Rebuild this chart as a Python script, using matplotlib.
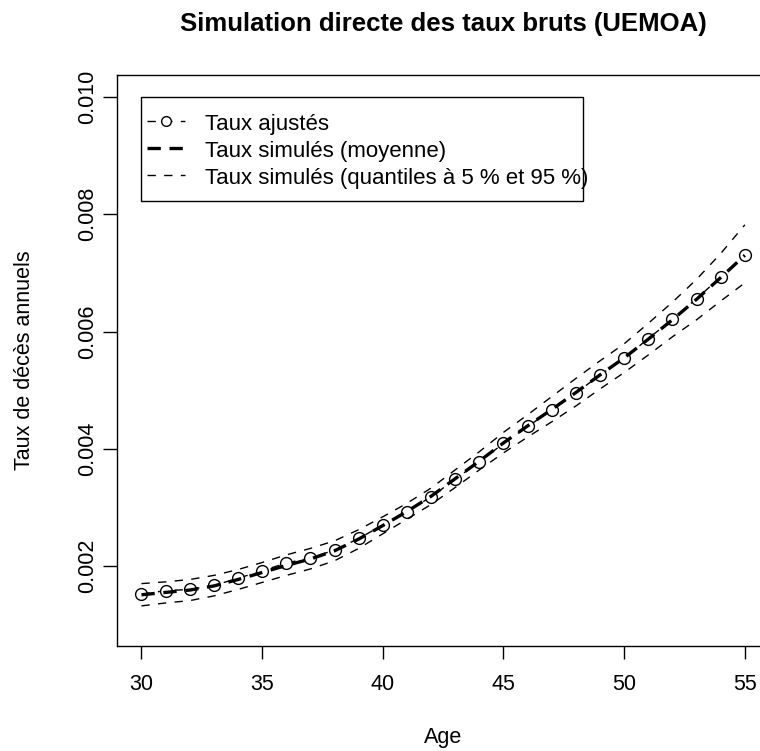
import numpy as np
import matplotlib
matplotlib.use('Agg')
import matplotlib.pyplot as plt
from matplotlib.lines import Line2D
from matplotlib.patches import Rectangle

plt.rcParams['font.family'] = ['Liberation Sans', 'DejaVu Sans']

# donnees
ages = np.arange(30, 56)
taux_ajustes = [0.00152, 0.00158, 0.00160, 0.00167, 0.00179, 0.00192, 0.00205, 0.00214,
                0.00227, 0.00247, 0.00270, 0.00293, 0.00318, 0.00348, 0.00378, 0.00409,
                0.00438, 0.00466, 0.00495, 0.00526, 0.00554, 0.00588, 0.00621, 0.00656,
                0.00693, 0.00730]
taux_moyenne = [0.00151, 0.00155, 0.00159, 0.00166, 0.00177, 0.00189, 0.00201, 0.00212,
                0.00226, 0.00246, 0.00269, 0.00293, 0.00319, 0.00349, 0.00379, 0.00410,
                0.00439, 0.00467, 0.00496, 0.00526, 0.00555, 0.00587, 0.00620, 0.00655,
                0.00692, 0.00730]
q95 = [0.00170, 0.00173, 0.00177, 0.00184, 0.00194, 0.00206, 0.00219, 0.00230,
       0.00243, 0.00262, 0.00284, 0.00307, 0.00333, 0.00364, 0.00395, 0.00428,
       0.00458, 0.00489, 0.00520, 0.00550, 0.00579, 0.00614, 0.00650, 0.00689,
       0.00733, 0.00782]
q05 = [0.00132, 0.00137, 0.00141, 0.00149, 0.00160, 0.00172, 0.00184, 0.00195,
       0.00209, 0.00230, 0.00255, 0.00280, 0.00305, 0.00334, 0.00364, 0.00393,
       0.00420, 0.00446, 0.00473, 0.00502, 0.00530, 0.00560, 0.00591, 0.00620,
       0.00652, 0.00683]
x_ticks = [30, 35, 40, 45, 50, 55]
y_ticks = [0.002, 0.004, 0.006, 0.008, 0.010]
labels = ['Taux ajustés', 'Taux simulés (moyenne)', 'Taux simulés (quantiles à 5 % et 95 %)']

W, H = 760, 751
fig = plt.figure(figsize=(W / 100, H / 100), dpi=100)
x0, x1, y0, y1 = 117.3, 769, 75, 646  # boite du graphe en pixels
ax = fig.add_axes([x0 / W, 1 - y1 / H, (x1 - x0) / W, (y1 - y0) / H])

fs = 15.5
tiret_fin = (0, (6, 6))
tiret_gras = (0, (4, 2.6))
ax.plot(ages, taux_ajustes, ls=tiret_fin, lw=1, color='black', marker='o', ms=8.5,
        mfc='white', mec='black', mew=1, zorder=2)
ax.plot(ages, taux_moyenne, ls=tiret_gras, lw=2.4, color='black', zorder=3)
ax.plot(ages, q95, ls=tiret_fin, lw=1, color='black', zorder=3)
ax.plot(ages, q05, ls=tiret_fin, lw=1, color='black', zorder=3)

ax.set_xlim(29, 56)
ax.set_ylim(0.000636, 0.010375)
ax.set_xticks(x_ticks)
ax.set_xticklabels([str(v) for v in x_ticks], fontsize=fs)
ax.set_yticks(y_ticks)
ax.set_yticklabels(['%.3f' % v for v in y_ticks], fontsize=fs, rotation=90, va='center')
ax.tick_params(axis='x', length=9, width=1, pad=11)
ax.tick_params(axis='y', length=10, width=1, pad=4)
for s in ax.spines.values():
    s.set_linewidth(1)
    s.set_color('black')

# cadre de la legende
def px2ax(px, py):
    return (px - x0) / (x1 - x0), (y1 - py) / (y1 - y0)

lx, ly = px2ax(141, 201)
rx, ry = px2ax(583, 97)
ax.add_patch(Rectangle((lx, ly), rx - lx, ry - ly, transform=ax.transAxes, fill=False,
                       ec='black', lw=1, zorder=4))
handles = [Line2D([], [], ls=tiret_fin, lw=1, color='black', marker='o', ms=7,
                  mfc='white', mec='black'),
           Line2D([], [], ls=tiret_gras, lw=2.4, color='black'),
           Line2D([], [], ls=tiret_fin, lw=1, color='black')]
ax_, ay_ = px2ax(147, 112)
ax.legend(handles, labels, loc='upper left', bbox_to_anchor=(ax_, ay_), frameon=False,
          borderpad=0, borderaxespad=0, fontsize=16, handlelength=1.7, handleheight=1.0,
          labelspacing=0.2, handletextpad=0.9)

fig.text(443 / W, 1 - 24 / H, 'Simulation directe des taux bruts (UEMOA)', ha='center',
         va='center', fontsize=18.5, fontweight='bold')
fig.text(443 / W, 1 - 738 / H, 'Age', ha='center', va='center', fontsize=fs)
fig.text(25 / W, 1 - 360 / H, 'Taux de décès annuels', ha='center', va='center',
         rotation=90, fontsize=fs)

fig.savefig('out.png', dpi=100)
